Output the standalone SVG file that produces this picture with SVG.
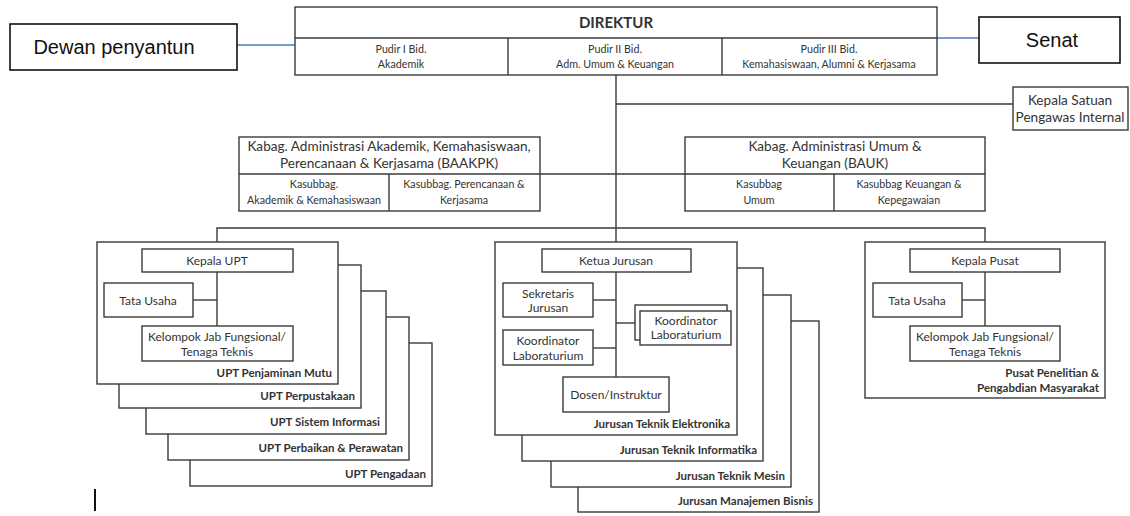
<svg xmlns="http://www.w3.org/2000/svg" width="1130" height="516" viewBox="0 0 1130 516">
<style>
.box{fill:#fff;stroke:#3a3a3a;stroke-width:1.4}
.bk{fill:#fff;stroke:#111;stroke-width:1.6}
.ln{fill:none;stroke:#3a3a3a;stroke-width:1.4}
.bl{fill:none;stroke:#4a7cc0;stroke-width:1.4}
.t{font-family:Lato,"Open Sans",sans-serif;fill:#333;text-anchor:middle;dominant-baseline:central}
.a{font-family:"Liberation Sans",Arial,sans-serif;fill:#111;font-size:20px;text-anchor:middle;dominant-baseline:central}
.r{text-anchor:end;font-weight:bold;font-size:11.5px}
.f10{font-size:10.7px}
.f11{font-size:12px}
.f12{font-size:13.6px}
.b14{font-size:15px;font-weight:bold}
</style>

<g id="connectors">
<line class="bl" x1="237" y1="45" x2="295" y2="45"/>
<line class="bl" x1="937" y1="38" x2="979" y2="38"/>
<polyline class="ln" points="616,75 616,242"/>
<line class="ln" x1="616" y1="104" x2="1013" y2="104"/>
<line class="ln" x1="540" y1="174" x2="685" y2="174"/>
<polyline class="ln" points="217,242 217,228 985,228 985,242"/>
</g>

<g id="dewan-penyantun">
<rect class="bk" x="10" y="24" width="227" height="46"/>
<text class="a" x="114" y="47">Dewan penyantun</text>
</g>

<g id="senat">
<rect class="bk" x="979" y="17" width="141" height="46"/>
<text class="a" x="1052" y="40">Senat</text>
</g>

<g id="direktur">
<rect class="box" x="295" y="7" width="642" height="68"/>
<line class="ln" x1="295" y1="38" x2="937" y2="38"/>
<line class="ln" x1="508" y1="38" x2="508" y2="75"/>
<line class="ln" x1="722" y1="38" x2="722" y2="75"/>
<text class="t b14" x="616" y="22">DIREKTUR</text>
<text class="t f10" x="401" y="48">Pudir I Bid.</text>
<text class="t f10" x="401" y="63">Akademik</text>
<text class="t f10" x="615" y="48">Pudir II Bid.</text>
<text class="t f10" x="615" y="63">Adm. Umum &amp; Keuangan</text>
<text class="t f10" x="829" y="48">Pudir III Bid.</text>
<text class="t f10" x="829" y="63">Kemahasiswaan, Alumni &amp; Kerjasama</text>
</g>

<g id="kepala-spi">
<rect class="box" x="1013" y="87" width="115" height="43"/>
<text class="t f12" x="1070" y="100">Kepala Satuan</text>
<text class="t f12" x="1070" y="117">Pengawas Internal</text>
</g>

<g id="baakpk">
<rect class="box" x="239" y="137" width="301" height="74"/>
<line class="ln" x1="239" y1="174" x2="540" y2="174"/>
<line class="ln" x1="389" y1="174" x2="389" y2="211"/>
<text class="t f12" x="389" y="146">Kabag. Administrasi Akademik, Kemahasiswaan,</text>
<text class="t f12" x="389" y="163">Perencanaan &amp; Kerjasama (BAAKPK)</text>
<text class="t f10" x="314" y="183">Kasubbag.</text>
<text class="t f10" x="314" y="199">Akademik &amp; Kemahasiswaan</text>
<text class="t f10" x="464" y="183">Kasubbag. Perencanaan &amp;</text>
<text class="t f10" x="464" y="199">Kerjasama</text>
</g>

<g id="bauk">
<rect class="box" x="685" y="137" width="300" height="74"/>
<line class="ln" x1="685" y1="174" x2="985" y2="174"/>
<line class="ln" x1="834" y1="174" x2="834" y2="211"/>
<text class="t f12" x="835" y="146">Kabag. Administrasi Umum &amp;</text>
<text class="t f12" x="835" y="163">Keuangan (BAUK)</text>
<text class="t f10" x="759" y="183">Kasubbag</text>
<text class="t f10" x="759" y="199">Umum</text>
<text class="t f10" x="909" y="183">Kasubbag Keuangan &amp;</text>
<text class="t f10" x="909" y="199">Kepegawaian</text>
</g>

<g id="upt">
<rect class="box" x="190" y="343" width="242" height="143"/>
<text class="t r" x="426" y="473">UPT Pengadaan</text>
<rect class="box" x="168" y="317" width="241" height="143"/>
<text class="t r" x="403" y="447">UPT Perbaikan &amp; Perawatan</text>
<rect class="box" x="146" y="291" width="240" height="143"/>
<text class="t r" x="380" y="421">UPT Sistem Informasi</text>
<rect class="box" x="119" y="265" width="242" height="143"/>
<text class="t r" x="355" y="395">UPT Perpustakaan</text>
<rect class="box" x="97" y="242" width="241" height="142"/>
<text class="t r" x="332" y="372">UPT Penjaminan Mutu</text>
<line class="ln" x1="217" y1="272" x2="217" y2="326"/>
<line class="ln" x1="193" y1="300" x2="217" y2="300"/>
<rect class="box" x="142" y="249" width="151" height="23"/>
<text class="t f11" x="217" y="260">Kepala UPT</text>
<rect class="box" x="104" y="283" width="89" height="34"/>
<text class="t f11" x="148" y="300">Tata Usaha</text>
<rect class="box" x="142" y="326" width="151" height="35"/>
<text class="t f11" x="217" y="336">Kelompok Jab Fungsional/</text>
<text class="t f11" x="217" y="351">Tenaga Teknis</text>
</g>

<g id="jurusan">
<rect class="box" x="578" y="321" width="241" height="191"/>
<text class="t r" x="813" y="500">Jurusan Manajemen Bisnis</text>
<rect class="box" x="551" y="295" width="240" height="192"/>
<text class="t r" x="785" y="475">Jurusan Teknik Mesin</text>
<rect class="box" x="522" y="268" width="241" height="193"/>
<text class="t r" x="757" y="449">Jurusan Teknik Informatika</text>
<rect class="box" x="495" y="242" width="242" height="193"/>
<text class="t r" x="730" y="423">Jurusan Teknik Elektronika</text>
<line class="ln" x1="616" y1="272" x2="616" y2="377"/>
<line class="ln" x1="593" y1="300" x2="616" y2="300"/>
<line class="ln" x1="593" y1="348" x2="616" y2="348"/>
<line class="ln" x1="616" y1="323" x2="635" y2="323"/>
<rect class="box" x="542" y="249" width="149" height="23"/>
<text class="t f11" x="616" y="260">Ketua Jurusan</text>
<rect class="box" x="503" y="283" width="90" height="34"/>
<text class="t f11" x="548" y="293">Sekretaris</text>
<text class="t f11" x="548" y="307">Jurusan</text>
<rect class="box" x="503" y="330" width="90" height="35"/>
<text class="t f11" x="548" y="340">Koordinator</text>
<text class="t f11" x="548" y="355">Laboraturium</text>
<rect class="box" x="635" y="305" width="92" height="35"/>
<rect class="box" x="640" y="311" width="91" height="34"/>
<text class="t f11" x="686" y="320">Koordinator</text>
<text class="t f11" x="686" y="334">Laboraturium</text>
<rect class="box" x="563" y="377" width="106" height="35"/>
<text class="t f11" x="616" y="394">Dosen/Instruktur</text>
</g>

<g id="pusat">
<rect class="box" x="865" y="242" width="240" height="156"/>
<text class="t r" x="1099" y="372">Pusat Penelitian &amp;</text>
<text class="t r" x="1099" y="387">Pengabdian Masyarakat</text>
<line class="ln" x1="985" y1="272" x2="985" y2="326"/>
<line class="ln" x1="962" y1="300" x2="985" y2="300"/>
<rect class="box" x="910" y="249" width="150" height="23"/>
<text class="t f11" x="985" y="260">Kepala Pusat</text>
<rect class="box" x="873" y="283" width="89" height="34"/>
<text class="t f11" x="917" y="300">Tata Usaha</text>
<rect class="box" x="910" y="326" width="150" height="35"/>
<text class="t f11" x="985" y="336">Kelompok Jab Fungsional/</text>
<text class="t f11" x="985" y="351">Tenaga Teknis</text>
</g>

<line x1="95" y1="489" x2="95" y2="511" stroke="#111" stroke-width="2"/>
</svg>
